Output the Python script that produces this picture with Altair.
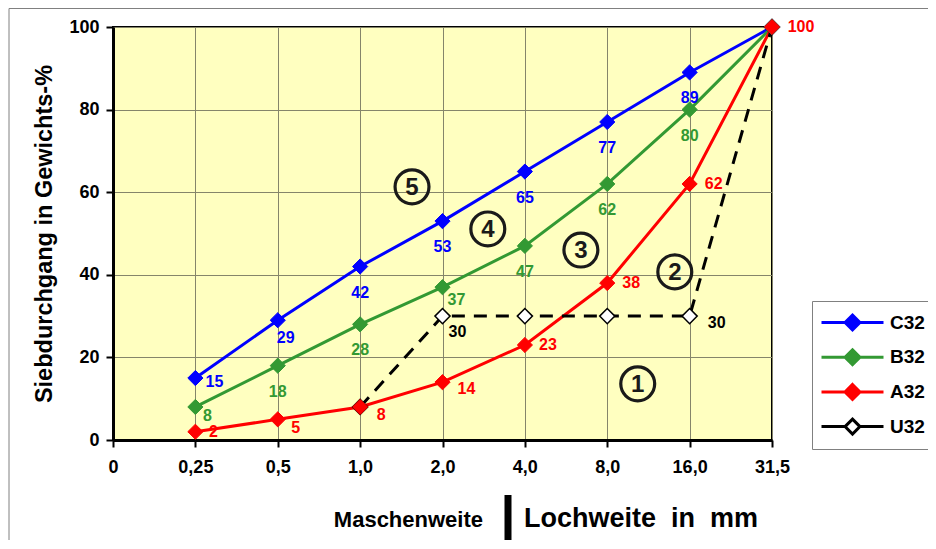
import altair as alt
import pandas as pd

# ---------------- data ----------------
sieve_labels = ["0", "0,25", "0,5", "1,0", "2,0", "4,0", "8,0", "16,0", "31,5"]
series_names = ["C32", "B32", "A32", "U32"]
series_colors = ["#0000FF", "#339933", "#FF0000", "#000000"]
marker_fills = ["#0000FF", "#339933", "#FF0000", "#FFFFFF"]

abc_sieves = ["0,25", "0,5", "1,0", "2,0", "4,0", "8,0", "16,0", "31,5"]
c32_values = [15, 29, 42, 53, 65, 77, 89, 100]
b32_values = [8, 18, 28, 37, 47, 62, 80, 100]
a32_values = [2, 5, 8, 14, 23, 38, 62, 100]
u32_sieves = ["1,0", "2,0", "4,0", "8,0", "16,0", "31,5"]
u32_values = [8, 30, 30, 30, 30, 100]

zone_labels = ["1", "2", "3", "4", "5"]
zone_x = [6.37, 6.82, 5.68, 4.55, 3.63]
zone_y = [13.6, 40.7, 46.0, 51.1, 61.3]

# label placement (pixel offsets, style only)
label_offsets = {
    ("C32", "0,25"): (19, 4), ("C32", "0,5"): (8, 18),
    ("C32", "1,0"): (0, 26), ("C32", "2,0"): (0, 26), ("C32", "4,0"): (0, 26),
    ("C32", "8,0"): (0, 26), ("C32", "16,0"): (0, 26),
    ("B32", "0,25"): (12, 9), ("B32", "0,5"): (0, 26), ("B32", "1,0"): (0, 26),
    ("B32", "2,0"): (14, 13), ("B32", "4,0"): (0, 26), ("B32", "8,0"): (0, 26),
    ("B32", "16,0"): (0, 26),
    ("A32", "0,25"): (18, 0), ("A32", "0,5"): (18, 9), ("A32", "1,0"): (21, 8),
    ("A32", "2,0"): (24, 7), ("A32", "4,0"): (23, 0), ("A32", "8,0"): (24, 0),
    ("A32", "16,0"): (24, 0), ("A32", "31,5"): (29, 0),
    ("U32", "2,0"): (15, 16), ("U32", "16,0"): (27, 7),
}

rows = []
for name, sieves, vals in [("C32", abc_sieves, c32_values),
                           ("B32", abc_sieves, b32_values),
                           ("A32", abc_sieves, a32_values),
                           ("U32", u32_sieves, u32_values)]:
    for s, v in zip(sieves, vals):
        rows.append({"series": name, "pos": sieve_labels.index(s), "sieve": s,
                     "value": v, "label": str(v)})
df = pd.DataFrame(rows)
zones = pd.DataFrame({"pos": zone_x, "value": zone_y, "label": zone_labels})

FONT = "Liberation Sans"
label_expr = "[" + ",".join("'%s'" % s for s in sieve_labels) + "][datum.value]"
GRID = "#85856A"

x_enc = alt.X("pos:Q", scale=alt.Scale(domain=[0, 8], nice=False, zero=False),
              axis=alt.Axis(values=list(range(9)), labelExpr=label_expr, title=None,
                            grid=True, gridColor=GRID, gridWidth=1,
                            domainColor="black", domainWidth=3,
                            tickColor="black", tickWidth=2, tickSize=7,
                            labelFont=FONT, labelFontSize=18, labelFontWeight="bold",
                            labelColor="black", labelPadding=11, labelFlush=False,
                            labelOverlap=False))
y_enc = alt.Y("value:Q", scale=alt.Scale(domain=[0, 100], nice=False),
              axis=alt.Axis(values=[0, 20, 40, 60, 80, 100],
                            title="Siebdurchgang in Gewichts-%",
                            titleFont=FONT, titleFontSize=23.5, titleFontWeight="bold",
                            titleColor="black", titlePadding=12,
                            grid=True, gridColor=GRID, gridWidth=1,
                            domainColor="black", domainWidth=3,
                            tickColor="black", tickWidth=2, tickSize=7,
                            labelFont=FONT, labelFontSize=18, labelFontWeight="bold",
                            labelColor="black", labelPadding=7))

color_scale = alt.Scale(domain=series_names, range=series_colors)
fill_scale = alt.Scale(domain=series_names, range=marker_fills)

LEGEND_PATH = "M-1,0H-0.24M0.24,0H1M0,-0.24L0.24,0L0,0.24L-0.24,0Z"
legend = alt.Legend(title=None, orient="none", legendX=699, legendY=274,
                    symbolType=LEGEND_PATH, symbolSize=3844, symbolStrokeWidth=3,
                    symbolOpacity=1,
                    labelFont=FONT, labelFontSize=19, labelFontWeight="bold",
                    labelColor="black", labelOffset=5, padding=8,
                    strokeColor="#808080", fillColor="white",
                    clipHeight=27, rowPadding=7.7)

base = alt.Chart(df)

frame = alt.Chart(pd.DataFrame({"a": [0]})).mark_rect(
    fill="transparent", stroke="#808080", strokeWidth=1
).encode(x=alt.value(-104), x2=alt.value(900), y=alt.value(-18.5), y2=alt.value(700))

layers = [frame]
# lines, one layer per series with fixed colour (no extra legend channels)
for name, col in zip(series_names, series_colors):
    props = dict(strokeWidth=3, color=col)
    if name == "U32":
        props["strokeDash"] = [13, 9]
    layers.append(base.transform_filter(alt.datum.series == name)
                  .mark_line(**props).encode(x=x_enc, y=y_enc))

pts_u = base.transform_filter(alt.datum.series == "U32").mark_point(
    shape="diamond", filled=False, size=230, strokeWidth=1.5, opacity=1).encode(
    x=x_enc, y=y_enc,
    color=alt.Color("series:N", scale=color_scale, legend=legend),
    fill=alt.Fill("series:N", scale=fill_scale, legend=legend))
pts_c = base.transform_filter(alt.datum.series != "U32").mark_point(
    shape="diamond", filled=False, size=230, strokeWidth=1, opacity=1).encode(
    x=x_enc, y=y_enc,
    color=alt.Color("series:N", scale=color_scale, legend=legend),
    fill=alt.Fill("series:N", scale=fill_scale, legend=legend))
layers += [pts_u, pts_c]

# value labels: one text layer per (offset, series)
groups = {}
for (s, sv), off in label_offsets.items():
    groups.setdefault((off, s), []).append(sv)
for (off, s), svs in groups.items():
    sub = df[(df["series"] == s) & (df["sieve"].isin(svs))]
    layers.append(alt.Chart(sub).mark_text(
        dx=off[0], dy=off[1], align="center", baseline="middle",
        font=FONT, fontSize=16, fontWeight="bold",
        color=series_colors[series_names.index(s)]).encode(
        x=x_enc, y=y_enc, text="label:N"))

# zone circles
zc = alt.Chart(zones)
layers.append(zc.mark_point(shape="circle", size=1150, filled=False, strokeWidth=3.2,
                            color="#1a1a1a", opacity=1).encode(x=x_enc, y=y_enc))
layers.append(zc.mark_text(font=FONT, fontSize=24, fontWeight="bold", color="#1a1a1a",
                           baseline="middle", align="center", dy=1).encode(
    x=x_enc, y=y_enc, text="label:N"))

# x title pieces
tdf = pd.DataFrame({"a": [0]})
layers.append(alt.Chart(tdf).mark_text(text="Maschenweite", font=FONT, fontSize=22,
                                       fontWeight="bold", align="right",
                                       baseline="alphabetic", color="black").encode(
    x=alt.value(370), y=alt.value(500)))
layers.append(alt.Chart(tdf).mark_rule(color="black", strokeWidth=7).encode(
    x=alt.value(395), y=alt.value(468), y2=alt.value(560)))
layers.append(alt.Chart(tdf).mark_text(text="Lochweite\u00a0 in\u00a0 mm", font=FONT,
                                       fontSize=27, fontWeight="bold", align="left",
                                       baseline="alphabetic", color="black").encode(
    x=alt.value(411), y=alt.value(500)))

chart = alt.layer(*layers).properties(
    width=659, height=413,
    autosize=alt.AutoSizeParams(type="none"),
    padding={"left": 105, "top": 19, "right": 156, "bottom": 100},
    background="white",
).configure_view(fill="#FFFFC0", stroke="black", strokeWidth=2)

chart.save("out.html", embed_options={"renderer": "svg", "actions": False})
